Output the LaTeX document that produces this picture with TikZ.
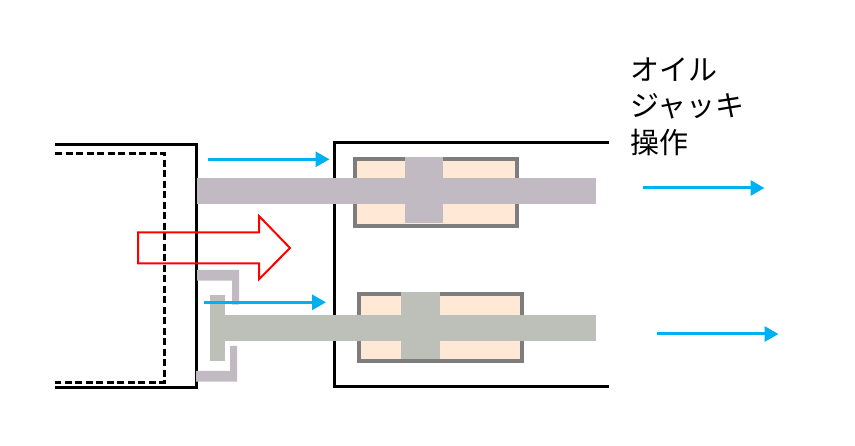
\documentclass[tikz,border=0pt]{standalone}
\usepackage{fontspec}
\newfontfamily\cjk{Noto Sans CJK JP}
\usetikzlibrary{arrows.meta}
\definecolor{rodCol}{RGB}{194,186,194}
\definecolor{rodColB}{RGB}{188,192,184}
\definecolor{oilCol}{RGB}{255,232,214}
\definecolor{moveCol}{RGB}{0,176,240}
\tikzset{
    wallLine/.style = {line width=3pt, black},
    dashLine/.style = {line width=3pt, black, dash pattern=on 7pt off 3.5pt},
    moveArrow/.style = {line width=3pt, moveCol, -{Triangle[length=14pt, width=15pt]}, shorten >=0pt},
    cylBox/.style = {line width=4pt, draw=gray!98!black, fill=oilCol},
}
\begin{document}
\begin{tikzpicture}[x=1pt, y=-1pt]
\useasboundingbox (0,0) rectangle (855,446);

%left body
\draw[wallLine] (55,144.7) -- (196.3,144.7) -- (196.3,388) -- (55,388);
\draw[dashLine] (55,153.5) -- (164.3,153.5) -- (164.3,382.3) -- (55,382.3);

%right body
\draw[wallLine] (609,142.7) -- (334.7,142.7) -- (334.7,386.3) -- (609,386.3);

%cylinders: left, right, top, bottom, piston left, piston right
\foreach \cylL/\cylR/\cylT/\cylB/\pisL/\pisR/\pisB/\rodL/\rodY/\rodC in
    {355/517/159/225.7/405/443/223/197/178/rodCol, 359/522/294/360.7/401/440/359/225/315/rodColB}
{
    \draw[cylBox] (\cylL,\cylT) rectangle (\cylR,\cylB);
    \fill[\rodC] (\pisL,\cylT-2) rectangle (\pisR,\pisB);
    \fill[\rodC] (\rodL,\rodY) rectangle (596,\rodY+25.7);
}

%bracket on the left body
\fill[rodColB] (210,295) rectangle (225,361);
\fill[rodCol] (197,270) -- (239,270) -- (239,304.7) -- (232,304.7) -- (232,280.7) -- (197,280.7) -- cycle;
\fill[rodCol] (196,371) -- (230,371) -- (230,346) -- (237,346) -- (237,381.7) -- (196,381.7) -- cycle;

%push direction
\draw[red, line width=2pt, line join=miter] (138,232.3) -- (259,232.3) -- (259,216) -- (290,248)
    -- (259,279.3) -- (259,263.3) -- (138,263.3) -- cycle;

%rod movement
\coordinate (mAStart) at (208,159.3);
\coordinate (mAEnd) at (329.5,159.3);
\coordinate (mBStart) at (204.3,302.3);
\coordinate (mBEnd) at (326,302.3);
\coordinate (mCStart) at (643,188);
\coordinate (mCEnd) at (764.5,188);
\coordinate (mDStart) at (657,334);
\coordinate (mDEnd) at (778.5,334);
\foreach \mv in {mA,mB,mC,mD}
{
    \draw[moveArrow] (\mv Start) -- (\mv End);
}

\node[anchor=north west, inner sep=0pt, align=left, font=\cjk\fontsize{29}{36.3}\selectfont] (jackLabel) at (630,57.5)
    {オイル\\ジャッキ\\操作};
\end{tikzpicture}
\end{document}
